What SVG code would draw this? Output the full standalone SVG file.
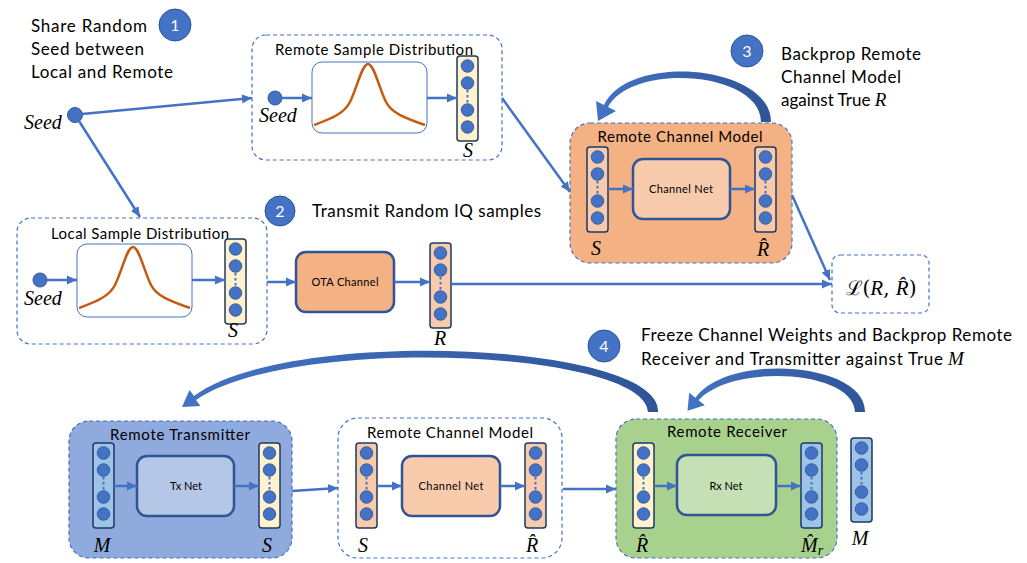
<svg xmlns="http://www.w3.org/2000/svg" width="1027" height="563" viewBox="0 0 1027 563">
<defs>
<style>
.t{font-family:Lato,"Liberation Sans",sans-serif;fill:#000}
.big{font-size:17px}
.ttl{font-size:15px;text-anchor:middle}
.sm{font-size:11px;text-anchor:middle}
.m{font-family:"Liberation Serif","DejaVu Serif",serif;font-style:italic;font-size:20px;fill:#000}
.mc{text-anchor:middle}
.dash{fill:none;stroke:#4472c4;stroke-width:1.2;stroke-dasharray:4 3}
.dashf{stroke:#4472c4;stroke-width:1.2;stroke-dasharray:4 3}
.conn{fill:none;stroke:#4472c4;stroke-width:2.5;marker-end:url(#ah)}
.vec{stroke:#1f3864;stroke-width:1.5}
.dot{fill:#4472c4;stroke:#2f5597;stroke-width:0.8}
.dotl{stroke:#4472c4;stroke-width:2;stroke-dasharray:2.5 2.5}
.net{stroke:#2f5597;stroke-width:2.5}
.num{fill:#4472c4;stroke:#2f5597;stroke-width:1}
.numt{font-family:Lato,"Liberation Sans",sans-serif;font-size:16px;fill:#fff;text-anchor:middle}
.bell{fill:none;stroke:#c55a11;stroke-width:2.5}
.cbox{fill:#fff;stroke:#4472c4;stroke-width:1}
.seed{fill:#4472c4;stroke:#2f5597;stroke-width:1}
.curve{fill:url(#cg)}
</style>
<marker id="ah" markerUnits="userSpaceOnUse" markerWidth="11" markerHeight="10" refX="10" refY="5" orient="auto">
<path d="M0,0.5 L10,5 L0,9.5 Z" fill="#4472c4"/>
</marker>
<linearGradient id="cg" x1="0" y1="0" x2="1" y2="0">
<stop offset="0" stop-color="#4472c4"/>
<stop offset="1" stop-color="#2f5597"/>
</linearGradient>
<g id="dots">
<line x1="10.5" y1="34" x2="10.5" y2="47" class="dotl"/>
<circle cx="10.5" cy="10" r="6.3" class="dot"/>
<circle cx="10.5" cy="27" r="6.3" class="dot"/>
<circle cx="10.5" cy="54" r="6.3" class="dot"/>
<circle cx="10.5" cy="71" r="6.3" class="dot"/>
</g>
<path id="bell" d="M2,63 C18,57 32,52 38,40 C45,26 50,2 56,2 C62,2 67,26 74,40 C80,52 96,57 113,63" class="bell"/>
</defs>

<!-- step texts -->
<g id="step1">
<text class="t big" x="31" y="32" textLength="116">Share Random</text>
<text class="t big" x="31" y="55" textLength="113">Seed between</text>
<text class="t big" x="31" y="78" textLength="142">Local and Remote</text>
<circle cx="175" cy="25" r="16" class="num"/>
<text class="numt" x="175" y="31">1</text>
</g>
<g id="step2">
<circle cx="280" cy="211" r="15" class="num"/>
<text class="numt" x="280" y="217">2</text>
<text class="t big" x="312" y="217" textLength="229">Transmit Random IQ samples</text>
</g>
<g id="step3">
<circle cx="747" cy="51" r="16" class="num"/>
<text class="numt" x="747" y="57">3</text>
<text class="t big" x="781" y="60" textLength="140">Backprop Remote</text>
<text class="t big" x="781" y="83" textLength="120">Channel Model</text>
<text class="t big" x="781" y="106">against True <tspan class="m" style="font-size:19px">R</tspan></text>
</g>
<g id="step4">
<circle cx="604" cy="346" r="16" class="num"/>
<text class="numt" x="604" y="352">4</text>
<text class="t big" x="641" y="341" textLength="371">Freeze Channel Weights and Backprop Remote</text>
<text class="t big" x="641" y="365"><tspan textLength="302">Receiver and Transmitter against True</tspan> <tspan class="m" style="font-size:19px">M</tspan></text>
</g>

<!-- nodes -->
<g id="seed-main">
<circle cx="75" cy="115" r="7.5" class="seed"/>
<text class="m" x="24" y="129">Seed</text>
</g>

<g id="remote-sample-distribution">
<rect x="252" y="35" width="250" height="125" rx="14" class="dash"/>
<text class="t ttl" x="374" y="55" textLength="198">Remote Sample Distribution</text>
<circle cx="275" cy="98" r="7" class="seed"/>
<text class="m" x="259" y="122">Seed</text>
<rect x="312" y="62" width="115" height="71" rx="10" class="cbox"/>
<use href="#bell" transform="translate(312,62)"/>
<rect x="457" y="56" width="21" height="85" rx="3" fill="#fff2cc" class="vec"/>
<use href="#dots" transform="translate(457,56)"/>
<text class="m mc" x="468" y="157">S</text>
</g>

<g id="local-sample-distribution">
<rect x="17" y="218" width="250" height="126" rx="14" class="dash"/>
<text class="t ttl" x="140" y="239" textLength="178">Local Sample Distribution</text>
<circle cx="40" cy="280" r="7" class="seed"/>
<text class="m" x="24" y="305">Seed</text>
<rect x="77" y="244" width="115" height="73" rx="10" class="cbox"/>
<use href="#bell" transform="translate(77,245)"/>
<rect x="225" y="239" width="21" height="85" rx="3" fill="#fff2cc" class="vec"/>
<use href="#dots" transform="translate(225,239)"/>
<text class="m mc" x="233" y="337">S</text>
</g>

<g id="ota-channel">
<rect x="296" y="252" width="98" height="60" rx="10" fill="#f4b183" class="net"/>
<text class="t sm" x="345" y="286" textLength="67">OTA Channel</text>
</g>

<g id="r-vector">
<rect x="430" y="243" width="21" height="85" rx="3" fill="#f8cbad" class="vec"/>
<use href="#dots" transform="translate(430,243)"/>
<text class="m mc" x="440" y="345">R</text>
</g>

<g id="loss">
<rect x="832" y="255" width="97" height="58" rx="8" class="dash"/>
<text x="881" y="295" style="font-family:'DejaVu Serif','Liberation Serif',serif;font-size:20px;text-anchor:middle">ℒ(<tspan class="m" style="font-size:21px">R</tspan>, <tspan class="m" style="font-size:21px">R̂</tspan>)</text>
</g>

<g id="remote-channel-model-top">
<rect x="570" y="123" width="222" height="140" rx="20" fill="#f4b183" class="dashf"/>
<text class="t ttl" x="680" y="142" textLength="165">Remote Channel Model</text>
<rect x="587" y="147" width="21" height="85" rx="3" fill="#f8cbad" class="vec"/>
<use href="#dots" transform="translate(587,147)"/>
<rect x="633" y="159" width="97" height="60" rx="10" fill="#f8cbad" class="net"/>
<text class="t sm" x="681" y="193" textLength="64">Channel Net</text>
<rect x="755" y="147" width="21" height="85" rx="3" fill="#f8cbad" class="vec"/>
<use href="#dots" transform="translate(755,147)"/>
<text class="m mc" x="596" y="255">S</text>
<text class="m mc" x="763" y="256">R̂</text>
</g>

<g id="remote-transmitter">
<rect x="69" y="421" width="223" height="137" rx="20" fill="#8faadc" class="dashf"/>
<text class="t ttl" x="180" y="440" textLength="140">Remote Transmitter</text>
<rect x="93" y="443" width="21" height="85" rx="3" fill="#9dc3e6" class="vec"/>
<use href="#dots" transform="translate(93,443)"/>
<rect x="137" y="456" width="97" height="60" rx="10" fill="#b4c7e7" class="net"/>
<text class="t sm" x="186" y="490">Tx Net</text>
<rect x="259" y="443" width="21" height="85" rx="3" fill="#fff2cc" class="vec"/>
<use href="#dots" transform="translate(259,443)"/>
<text class="m mc" x="102" y="552">M</text>
<text class="m mc" x="267" y="552">S</text>
</g>

<g id="remote-channel-model-bottom">
<rect x="338" y="418" width="224" height="140" rx="20" class="dash"/>
<text class="t ttl" x="450" y="438" textLength="166">Remote Channel Model</text>
<rect x="356" y="443" width="21" height="85" rx="3" fill="#f8cbad" class="vec"/>
<use href="#dots" transform="translate(356,443)"/>
<rect x="402" y="456" width="98" height="60" rx="10" fill="#f8cbad" class="net"/>
<text class="t sm" x="451" y="490" textLength="65">Channel Net</text>
<rect x="525" y="443" width="21" height="85" rx="3" fill="#f8cbad" class="vec"/>
<use href="#dots" transform="translate(525,443)"/>
<text class="m mc" x="363" y="552">S</text>
<text class="m mc" x="532" y="552">R̂</text>
</g>

<g id="remote-receiver">
<rect x="616" y="419" width="221" height="139" rx="20" fill="#a9d18e" class="dashf"/>
<text class="t ttl" x="727" y="437" textLength="120">Remote Receiver</text>
<rect x="633" y="443" width="21" height="85" rx="3" fill="#fff2cc" class="vec"/>
<use href="#dots" transform="translate(633,443)"/>
<rect x="677" y="455" width="99" height="60" rx="10" fill="#c5e0b4" class="net"/>
<text class="t sm" x="726" y="490">Rx Net</text>
<rect x="801" y="443" width="21" height="85" rx="3" fill="#9dc3e6" class="vec"/>
<use href="#dots" transform="translate(801,443)"/>
<text class="m mc" x="642" y="552">R̂</text>
<text class="m" x="801" y="552">M̂<tspan style="font-size:14px" dy="3">r</tspan></text>
</g>

<g id="true-m">
<rect x="851" y="438" width="21" height="84" rx="3" fill="#9dc3e6" class="vec"/>
<use href="#dots" transform="translate(851,438)"/>
<text class="m mc" x="860" y="545">M</text>
</g>

<!-- connectors -->
<g id="connectors">
<path class="conn" d="M82,114 L252,98"/>
<path class="conn" d="M79,121 L140,217"/>
<path class="conn" d="M282,98 L312,98"/>
<path class="conn" d="M427,98 L457,98"/>
<path class="conn" d="M502,98 L570,192"/>
<path class="conn" d="M47,280 L77,280"/>
<path class="conn" d="M192,280 L225,280"/>
<path class="conn" d="M267,282 L296,282"/>
<path class="conn" d="M394,282 L430,282"/>
<path class="conn" d="M451,284 L832,284"/>
<path class="conn" d="M608,189 L633,189"/>
<path class="conn" d="M730,189 L755,189"/>
<path class="conn" d="M792,195 L830,280"/>
<path class="conn" d="M114,486 L137,486"/>
<path class="conn" d="M234,486 L259,486"/>
<path class="conn" d="M292,491 L338,488"/>
<path class="conn" d="M377,486 L402,486"/>
<path class="conn" d="M500,486 L525,486"/>
<path class="conn" d="M563,489 L616,489"/>
<path class="conn" d="M654,486 L677,486"/>
<path class="conn" d="M776,486 L801,486"/>
<path class="curve" d="M771,122 C771,65 629,52 604,105 L596,101 L598,121 L616,111 L608,107 C632,62 761,71 761,122 Z"/>
<path class="curve" d="M658,412 C663,343 290,325 194,396 L189.5,390 L182,407 L200.5,406 L196,400 C292,334 645,350 648,412 Z"/>
<path class="curve" d="M865,412 C866,362 728,352 695.4,397.7 L689.2,392.7 L687.5,410.7 L704.8,405.3 L698.6,400.3 C732,363 854,370 855,412 Z"/>
</g>
</svg>
